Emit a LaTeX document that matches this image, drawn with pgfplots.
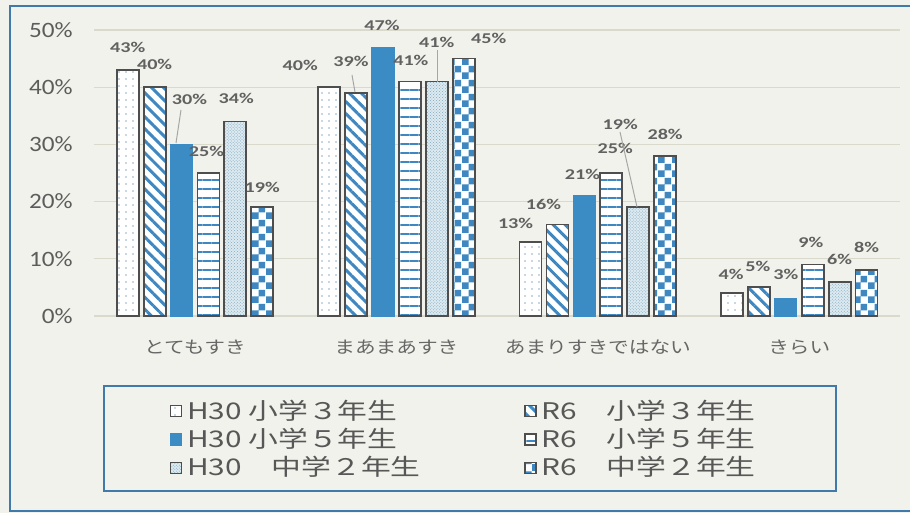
\documentclass[border=0pt]{standalone}
\usepackage{pgfplots}
\pgfplotsset{compat=1.18}
\usepackage{fontspec}
\usetikzlibrary{patterns,patterns.meta}
\setmainfont{Carlito}
\newfontfamily\cjk[FakeStretch=1.3]{Noto Sans CJK JP}
\newfontfamily\catf[FakeStretch=1.22]{Noto Sans CJK JP}
\newfontfamily\tickf[FakeStretch=1.15]{Carlito}
\newfontfamily\labf[FakeStretch=1.35]{Carlito}
\definecolor{bg}{HTML}{F2F2EC}
\definecolor{frameblue}{HTML}{3F7AAA}
\definecolor{barblue}{HTML}{3B8BC4}
\definecolor{patblue}{HTML}{3E87C0}
\definecolor{outl}{HTML}{4E4E4E}
\definecolor{txt}{HTML}{666666}
\definecolor{gridc}{HTML}{D9D9CC}
\definecolor{lightfill}{HTML}{DDEAF0}
\definecolor{hatchc}{HTML}{7FA8C0}
\definecolor{dotc}{HTML}{8FB0C8}
\pgfdeclarepatternformonly{bigchecker}{\pgfpointorigin}{\pgfqpoint{14bp}{14bp}}{\pgfqpoint{14bp}{14bp}}{%
 \pgfpathrectangle{\pgfpointorigin}{\pgfqpoint{7bp}{7bp}}%
 \pgfpathrectangle{\pgfqpoint{7bp}{7bp}}{\pgfqpoint{7bp}{7bp}}%
 \pgfusepath{fill}}
\pgfplotsset{
 sqleg/.style={legend image code/.code={\draw[##1, line width=1.4bp] (0bp,-6.5bp) rectangle (11bp,4.5bp);}},
 lab/.style={
  nodes near coords={\pgfmathprintnumber{\pgfplotspointmeta}\%},
  point meta=explicit,
  visualization depends on={value \thisrow{dx}\as\dx},
  visualization depends on={value \thisrow{dy}\as\dy},
  every node near coord/.append style={anchor=center, xshift=\dx bp, yshift=\dy bp,
     font=\labf\bfseries\fontsize{15}{15}\selectfont, text=txt!95!black, inner sep=0pt},
 },
}
\begin{document}
\begin{tikzpicture}
\useasboundingbox (0,0) rectangle (910bp,513bp);
\fill[bg] (0,0) rectangle (910bp,513bp);
\draw[frameblue, line width=2.5bp] (925bp,507bp) -- (10bp,507bp) -- (10bp,2bp) -- (925bp,2bp);
\draw[frameblue, line width=2.5bp] (104bp,127bp) rectangle (836bp,22bp);
\begin{axis}[
 at={(94.25bp,197bp)}, anchor=south west,
 scale only axis, width=805.75bp, height=286bp,
 /pgf/number format/assume math mode=true,
 ybar=4.9bp, bar width=22bp,
 xmin=-0.5, xmax=3.5, ymin=0, ymax=50,
 clip=false,
 axis line style={draw=none},
 major tick length=0pt,
 ymajorgrids, grid style={gridc, line width=1.3bp},
 ytick={0,10,20,30,40,50},
 yticklabels={0\%,10\%,20\%,30\%,40\%,50\%},
 yticklabel style={anchor=east, xshift=-18bp, font=\tickf\fontsize{22}{22}\selectfont, text=txt!90!black},
 xtick={0,1,2,3},
 xticklabels={とてもすき,まあまあすき,あまりすきではない,きらい},
 xticklabel style={anchor=center, yshift=-31bp, font=\catf\fontsize{17}{17}\selectfont, text=txt},
 legend columns=2,
 legend cell align=left,
 legend style={draw=none, fill=none, at={(0.0935,-0.292)}, anchor=north west,
   inner sep=0pt, row sep=7.5bp, nodes={inner sep=0pt},
   font=\cjk\fontsize{23}{23}\selectfont, text=txt!85!black,
   /tikz/every odd column/.append style={column sep=5bp},
   /tikz/every even column/.append style={column sep=7bp}},
 sqleg,
]
% H30 小学3年生
\addplot[sqleg, lab, draw=outl, line width=1.8bp, fill=white,
  postaction={pattern={Dots[distance=7bp, radius=0.9bp]}, pattern color=dotc}]
 table[x=x,y=y,meta=y]{
x y dx dy
0 43 0 23
1 40 -29 22
2 13 -15 18
3 4 -1 19
};
\addlegendentry{\makebox[330bp][l]{H30 小学３年生}}
% R6 小学3年生
\addplot[sqleg, lab, draw=outl, line width=1.8bp, fill=white,
  postaction={pattern={Lines[angle=-45, distance=8.5bp, line width=3bp]}, pattern color=patblue}]
 table[x=x,y=y,meta=y]{
x y dx dy
0 40 0 23
1 39 -5 32
2 16 -14 20
3 5 -1 21
};
\addlegendentry{R6　小学３年生}
% H30 小学5年生
\addplot[sqleg, lab, draw=barblue, line width=1.2bp, fill=barblue]
 table[x=x,y=y,meta=y]{
x y dx dy
0 30 8 45
1 47 -1 22
2 21 -2 21
3 3 0 24
};
\addlegendentry{\makebox[330bp][l]{H30 小学５年生}}
% R6 小学5年生
\addplot[sqleg, lab, draw=outl, line width=1.8bp, fill=white,
  postaction={pattern={Lines[angle=0, distance=9bp, line width=1.6bp]}, pattern color=patblue}]
 table[x=x,y=y,meta=y]{
x y dx dy
0 25 -2 22
1 41 1 21
2 25 4 25
3 9 -2 22
};
\addlegendentry{R6　小学５年生}
% H30 中学2年生
\addplot[sqleg, lab, draw=outl, line width=1.8bp, fill=lightfill,
  postaction={pattern=crosshatch dots, pattern color=hatchc}]
 table[x=x,y=y,meta=y]{
x y dx dy
0 34 1 23
1 41 0 39
2 19 -18 83
3 6 0 22
};
\addlegendentry{\makebox[330bp][l]{H30　中学２年生}}
% R6 中学2年生
\addplot[sqleg, lab, draw=outl, line width=1.8bp, fill=white,
  postaction={pattern=bigchecker, pattern color=patblue}]
 table[x=x,y=y,meta=y]{
x y dx dy
0 19 0 20
1 45 25 20
2 28 0 21
3 8 0 23
};
\addlegendentry{R6　中学２年生}
\end{axis}
% leader lines
\draw[gray!70, line width=1bp] (181bp,403bp) -- (176bp,370bp);
\draw[gray!70, line width=1bp] (352bp,438bp) -- (355bp,421bp);
\draw[gray!70, line width=1bp] (437bp,463bp) -- (437bp,431bp);
\draw[gray!70, line width=1bp] (620bp,381bp) -- (637bp,306bp);
\end{tikzpicture}
\end{document}
